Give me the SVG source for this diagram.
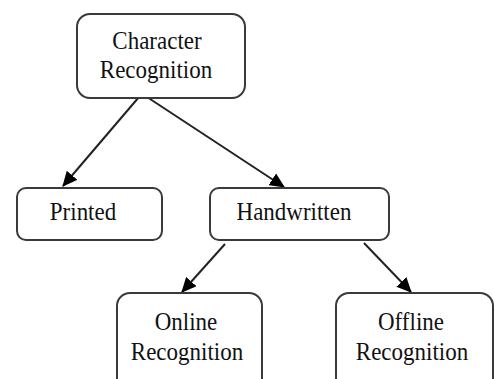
<svg xmlns="http://www.w3.org/2000/svg" width="494" height="379" viewBox="0 0 494 379">
<style>
.box{fill:#fff;stroke:#3a3a3a;stroke-width:2}
.lbl{font-family:"Liberation Serif","Times New Roman",serif;font-size:23px;fill:#111;text-anchor:middle}
.edge{stroke:#222;stroke-width:2;fill:none;marker-end:url(#ah)}
</style>
<defs>
<marker id="ah" viewBox="0 0 15 14" refX="14" refY="7" markerWidth="15" markerHeight="14" markerUnits="userSpaceOnUse" orient="auto">
<path d="M0,0 L15,7 L0,14 Z" fill="#000"/>
</marker>
</defs>
<g id="connectors">
<line class="edge" x1="139" y1="97" x2="63" y2="186"/>
<line class="edge" x1="147" y1="97" x2="284" y2="187"/>
<line class="edge" x1="225" y1="244" x2="182" y2="292"/>
<line class="edge" x1="364" y1="243" x2="411" y2="292"/>
</g>
<g id="n-character">
<rect class="box" x="77" y="14" width="168" height="84" rx="13"/>
<text class="lbl" transform="translate(157 49) scale(1 1.12)">Character</text>
<text class="lbl" transform="translate(156 78) scale(1 1.12)">Recognition</text>
</g>
<g id="n-printed">
<rect class="box" x="17" y="188" width="145" height="52" rx="9"/>
<text class="lbl" transform="translate(83 220) scale(1 1.12)">Printed</text>
</g>
<g id="n-handwritten">
<rect class="box" x="210" y="188" width="179" height="52" rx="9"/>
<text class="lbl" transform="translate(294 220) scale(1 1.12)">Handwritten</text>
</g>
<g id="n-online">
<rect class="box" x="117" y="293" width="145" height="100" rx="13"/>
<text class="lbl" transform="translate(186 330) scale(1 1.12)">Online</text>
<text class="lbl" transform="translate(187 360) scale(1 1.12)">Recognition</text>
</g>
<g id="n-offline">
<rect class="box" x="336" y="293" width="157" height="100" rx="13"/>
<text class="lbl" transform="translate(411 330) scale(1 1.12)">Offline</text>
<text class="lbl" transform="translate(412 360) scale(1 1.12)">Recognition</text>
</g>
</svg>
